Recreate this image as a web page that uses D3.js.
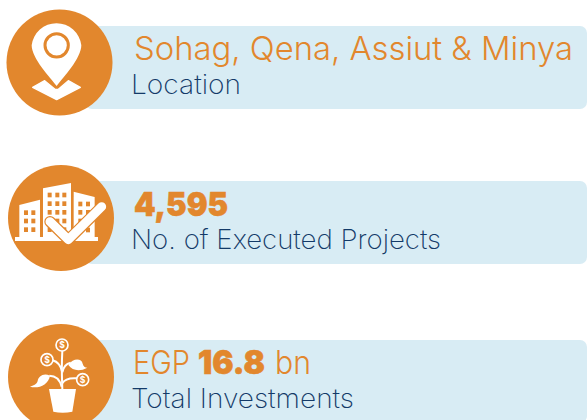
<!DOCTYPE html>
<html>
<head>
<meta charset="utf-8">
<script src="https://cdn.jsdelivr.net/npm/d3@7"></script>
<style>
    html, body { margin: 0; padding: 0; background: #fff; overflow: hidden; }
    text { font-family: Inter, "Open Sans", sans-serif; }
</style>
</head>
<body>
<div id="chart"></div>
<script>
// the three rows, top to bottom
var rowNames = ["location", "projects", "investments"];
var captions = ["Location", "No. of Executed Projects", "Total Investments"];
var headlineParts = [
    [{ text: "Sohag, Qena, Assiut & Minya", bold: false }],
    [{ text: "4,595", bold: true }],
    [{ text: "EGP", bold: false }, { text: "16.8", bold: true }, { text: "bn", bold: false }]
];

var orange = "#e2872d";
var navy = "#133a68";
var panelBlue = "#d8ecf4";

var width = 587;
var height = 420;

// layout
var panelTop = d3.scaleOrdinal().domain(rowNames).range([26, 181, 340]);
var circleX = d3.scaleOrdinal().domain(rowNames).range([59.5, 61, 61]);
var circleY = d3.scaleOrdinal().domain(rowNames).range([62.5, 218, 377]);
var headlineBase = d3.scaleOrdinal().domain(rowNames).range([60, 216, 374]);
var captionBase = d3.scaleOrdinal().domain(rowNames).range([94, 249, 408]);
var captionX = { x: 131, lengths: [110, 310, 223] };
var headlineBoxes = [
    [[134, 439]],
    [[134, 94]],
    [[133, 57], [198, 67], [275, 36]]
];

var svg = d3.select("#chart").append("svg")
    .attr("width", width)
    .attr("height", height);

var rows = svg.selectAll("g.row")
    .data(rowNames)
    .enter().append("g")
    .attr("class", "row");

rows.append("rect")
    .attr("x", 85)
    .attr("y", function(d) { return panelTop(d); })
    .attr("width", 502)
    .attr("height", 83)
    .attr("rx", 7)
    .attr("fill", panelBlue);

rows.append("circle")
    .attr("cx", function(d) { return circleX(d); })
    .attr("cy", function(d) { return circleY(d); })
    .attr("r", 53)
    .attr("fill", orange);

rows.each(function(d, i) {
    var row = d3.select(this);
    headlineParts[i].forEach(function(part, k) {
        row.append("text")
            .attr("x", headlineBoxes[i][k][0])
            .attr("y", headlineBase(d))
            .attr("font-size", 33)
            .attr("font-weight", part.bold ? 900 : 300)
            .attr("fill", orange)
            .attr("stroke", part.bold ? orange : "none")
            .attr("stroke-width", part.bold ? 0.6 : 0)
            .attr("textLength", headlineBoxes[i][k][1])
            .attr("lengthAdjust", "spacingAndGlyphs")
            .text(part.text);
    });
    row.append("text")
        .attr("x", captionX.x)
        .attr("y", captionBase(d))
        .attr("font-size", 27)
        .attr("font-weight", 250)
        .attr("fill", navy)
        .attr("textLength", captionX.lengths[i])
        .attr("lengthAdjust", "spacingAndGlyphs")
        .text(captions[i]);
});

// icons are drawn at 3x, in the coordinates of a crop starting at (0, y)
function iconGroup(y) {
    return svg.append("g").attr("transform", "translate(0," + y + ") scale(0.3333)");
}

// map pin
var pin = iconGroup(0);
pin.append("path")
    .attr("fill", "#fff")
    .attr("d", "M170 258 C150 232 95 175 95 136 A75 75 0 0 1 244 136 C244 175 190 232 170 258 Z");
pin.append("circle")
    .attr("cx", 170).attr("cy", 136).attr("r", 35)
    .attr("fill", "#fff").attr("stroke", orange).attr("stroke-width", 9);
pin.append("path")
    .attr("fill", "#fff")
    .attr("stroke", "#fff").attr("stroke-width", 4).attr("stroke-linejoin", "round")
    .attr("d", "M98 262 L134 242 L165 268 L175 268 L205 242 L241 262 L170 299 Z");

// buildings with a check mark
var city = iconGroup(155);
var buildings = [
    { d: "M58 150 L120 134 L120 246 L58 246 Z", xs: [72, 94], ys: [166, 191, 217] },
    { d: "M129 100 L213 84 L213 246 L129 246 Z", xs: [143, 166, 187], ys: [113, 139, 165, 191, 217] },
    { d: "M221 110 L284 126 L284 246 L221 246 Z", xs: [235, 258], ys: [140, 165, 191, 218] }
];
buildings.forEach(function(b) {
    city.append("path").attr("d", b.d).attr("fill", "#fff");
    b.xs.forEach(function(x) {
        b.ys.forEach(function(y) {
            city.append("rect")
                .attr("x", x).attr("y", y)
                .attr("width", 12).attr("height", 14)
                .attr("fill", orange);
        });
    });
});
city.append("rect").attr("x", 45).attr("y", 246).attr("width", 249).attr("height", 12).attr("fill", "#fff");
var checkLine = "M150 200 L205 254 L305 155";
city.append("path").attr("d", checkLine)
    .attr("fill", "none").attr("stroke", orange).attr("stroke-width", 34)
    .attr("stroke-linecap", "round").attr("stroke-linejoin", "round");
city.append("path").attr("d", checkLine)
    .attr("fill", "none").attr("stroke", "#fff").attr("stroke-width", 27)
    .attr("stroke-linecap", "round").attr("stroke-linejoin", "round");

// money plant
var plant = iconGroup(315);
var stems = [
    "M187 222 C186 190 184 160 187 108",
    "M186 170 C182 150 172 140 158 136",
    "M187 172 C190 155 198 146 212 143",
    "M187 205 C194 192 208 188 232 190",
    "M185 215 C180 195 170 182 148 182"
];
stems.forEach(function(s) {
    plant.append("path").attr("d", s)
        .attr("fill", "none").attr("stroke", "#fff").attr("stroke-width", 6);
});
plant.append("path").attr("fill", "#fff")
    .attr("d", "M205 150 C220 128 245 130 248 146 C250 155 255 157 262 158 C240 170 218 168 205 150 Z");
plant.append("path").attr("fill", "#fff")
    .attr("d", "M150 182 C130 172 115 185 113 198 C110 208 100 212 90 215 C115 222 145 210 150 182 Z");
plant.append("path").attr("fill", "#fff")
    .attr("d", "M147 222 L228 222 L217 290 Q188 296 160 290 Z");
var coins = [[186, 90], [141, 134], [248, 194]];
plant.selectAll("circle.coin")
    .data(coins)
    .enter().append("circle")
    .attr("class", "coin")
    .attr("cx", function(d) { return d[0]; })
    .attr("cy", function(d) { return d[1]; })
    .attr("r", 18)
    .attr("fill", orange)
    .attr("stroke", "#fff")
    .attr("stroke-width", 5);
plant.selectAll("text.dollar")
    .data(coins)
    .enter().append("text")
    .attr("class", "dollar")
    .attr("x", function(d) { return d[0]; })
    .attr("y", function(d) { return d[1] + 9; })
    .attr("text-anchor", "middle")
    .attr("font-size", 26)
    .attr("font-weight", 700)
    .attr("fill", "#fff")
    .text("$");
</script>
</body>
</html>
